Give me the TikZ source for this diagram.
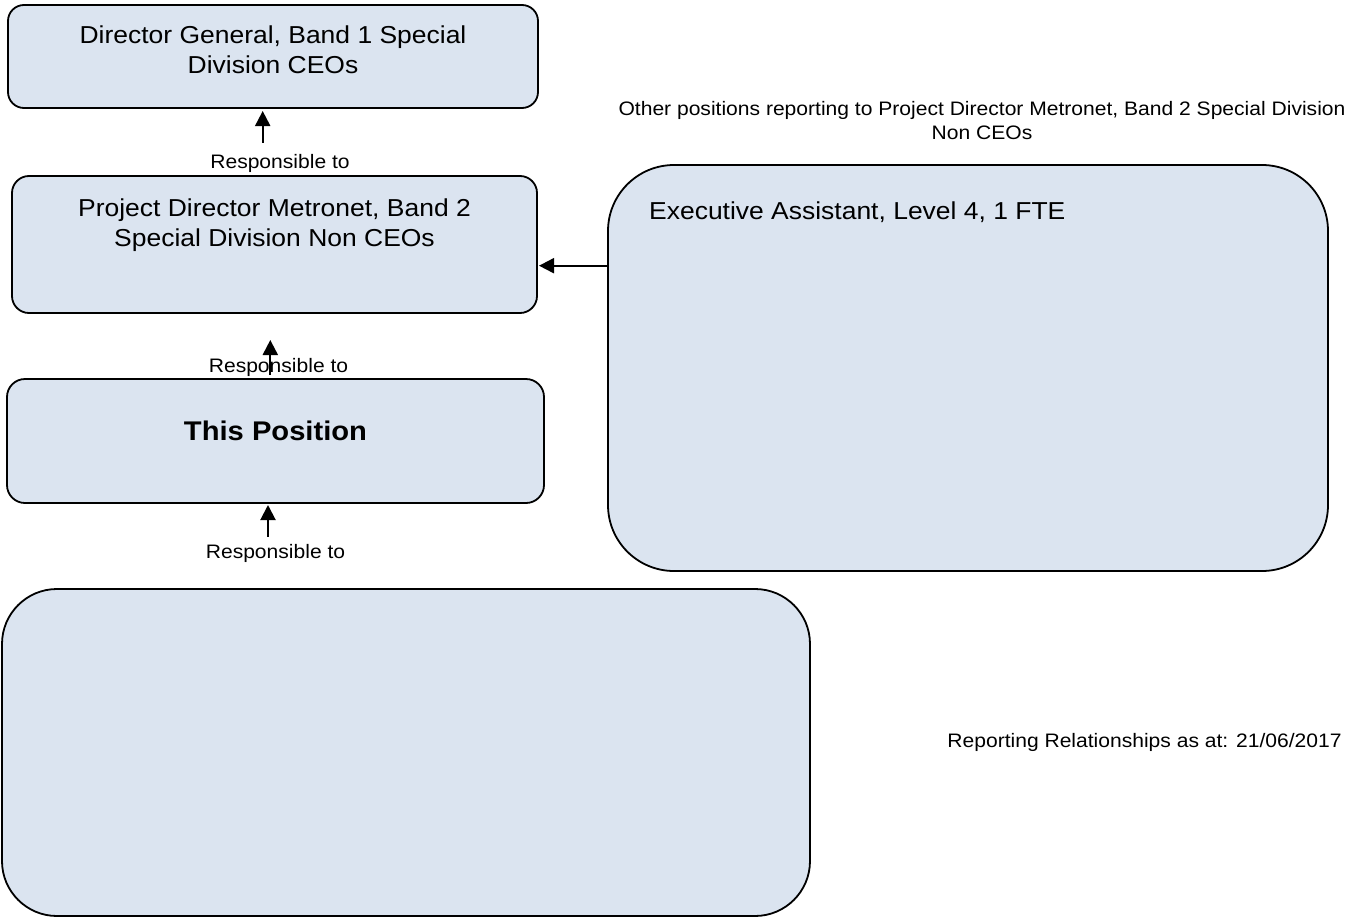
\documentclass[tikz,border=0pt]{standalone}
\usepackage{fontspec}
\setmainfont[FakeStretch=1.08]{Liberation Sans}
\usetikzlibrary{arrows.meta,positioning}
\definecolor{boxblue}{RGB}{219,228,240}
\tikzset{
    posbox/.style={draw=black, fill=boxblue, line width=1.8pt, inner sep=0pt, outer sep=0pt},
    bigtext/.style={font=\fontsize{24.5}{30}\selectfont, align=center, inner sep=0pt},
    smalltext/.style={font=\fontsize{19.5}{24}\selectfont, align=center, inner sep=0pt},
    reportarrow/.style={line width=2pt, -{Triangle[length=15pt,width=15pt]}}
}

\begin{document}
\begin{tikzpicture}[x=1pt, y=-1pt]
    \useasboundingbox (0,0) rectangle (1360,918);
    
    %% boxes of the chart, centre and size in pixels of the page
    \node[posbox, rounded corners=16pt, minimum width=530pt, minimum height=103pt] (dirgen) at (273,56.5) {};
    \node[posbox, rounded corners=17pt, minimum width=525pt, minimum height=137pt] (projdir) at (274.5,244.5) {};
    \node[posbox, rounded corners=18pt, minimum width=537pt, minimum height=124pt] (thispos) at (275.5,441) {};
    \node[posbox, rounded corners=55pt, minimum width=808pt, minimum height=327pt] (lowbox) at (406,752.5) {};
    \node[posbox, rounded corners=66pt, minimum width=720pt, minimum height=406pt] (execasst) at (968,368) {};
    
    %% texts in the boxes
    \node[bigtext, anchor=north] (dirgentext) at (273,26) {Director General, Band 1 Special\\Division CEOs};
    \node[bigtext, anchor=north] (projdirtext) at (274.5,198.5) {Project Director Metronet, Band 2\\Special Division Non CEOs};
    \node[bigtext, anchor=base west] (exectext) at (649,219.3) {Executive Assistant, Level 4, 1 FTE};
    \node[bigtext, font=\fontsize{27}{32}\selectfont\bfseries, anchor=base] (thispostext) at (275.5,440) {This Position};
    
    \node[smalltext, anchor=north] (othertext) at (982,101) {Other positions reporting to Project Director Metronet, Band 2 Special Division\\Non CEOs};
    \node[smalltext, anchor=base] (datetext) at (1144.5,747) {Reporting Relationships as at: 21/06/2017};
    
    \foreach \n/\x/\y in 
    {respA/280/168,
        respB/278.5/372,
        respC/275.5/558
    }
    {
        \node[smalltext, anchor=base] (\n) at (\x,\y) {Responsible to};
    };
    
    %% arrows
    \coordinate (tailA) at (262.7,142.7);
    \coordinate (tailB) at (270.3,375);
    \coordinate (headB) at (270.3,340);
    \coordinate (tailC) at (268,536.7);
    \coordinate (tailD) at (execasst.west |- 0,265.7);
    \draw[reportarrow, shorten >=3pt] (tailA) -- (tailA |- dirgen.south);
    \draw[reportarrow] (tailB) -- (headB);
    \draw[reportarrow, shorten >=2pt] (tailC) -- (tailC |- thispos.south);
    \draw[reportarrow, shorten >=2pt] (tailD) -- (tailD -| projdir.east);
\end{tikzpicture}
\end{document}
